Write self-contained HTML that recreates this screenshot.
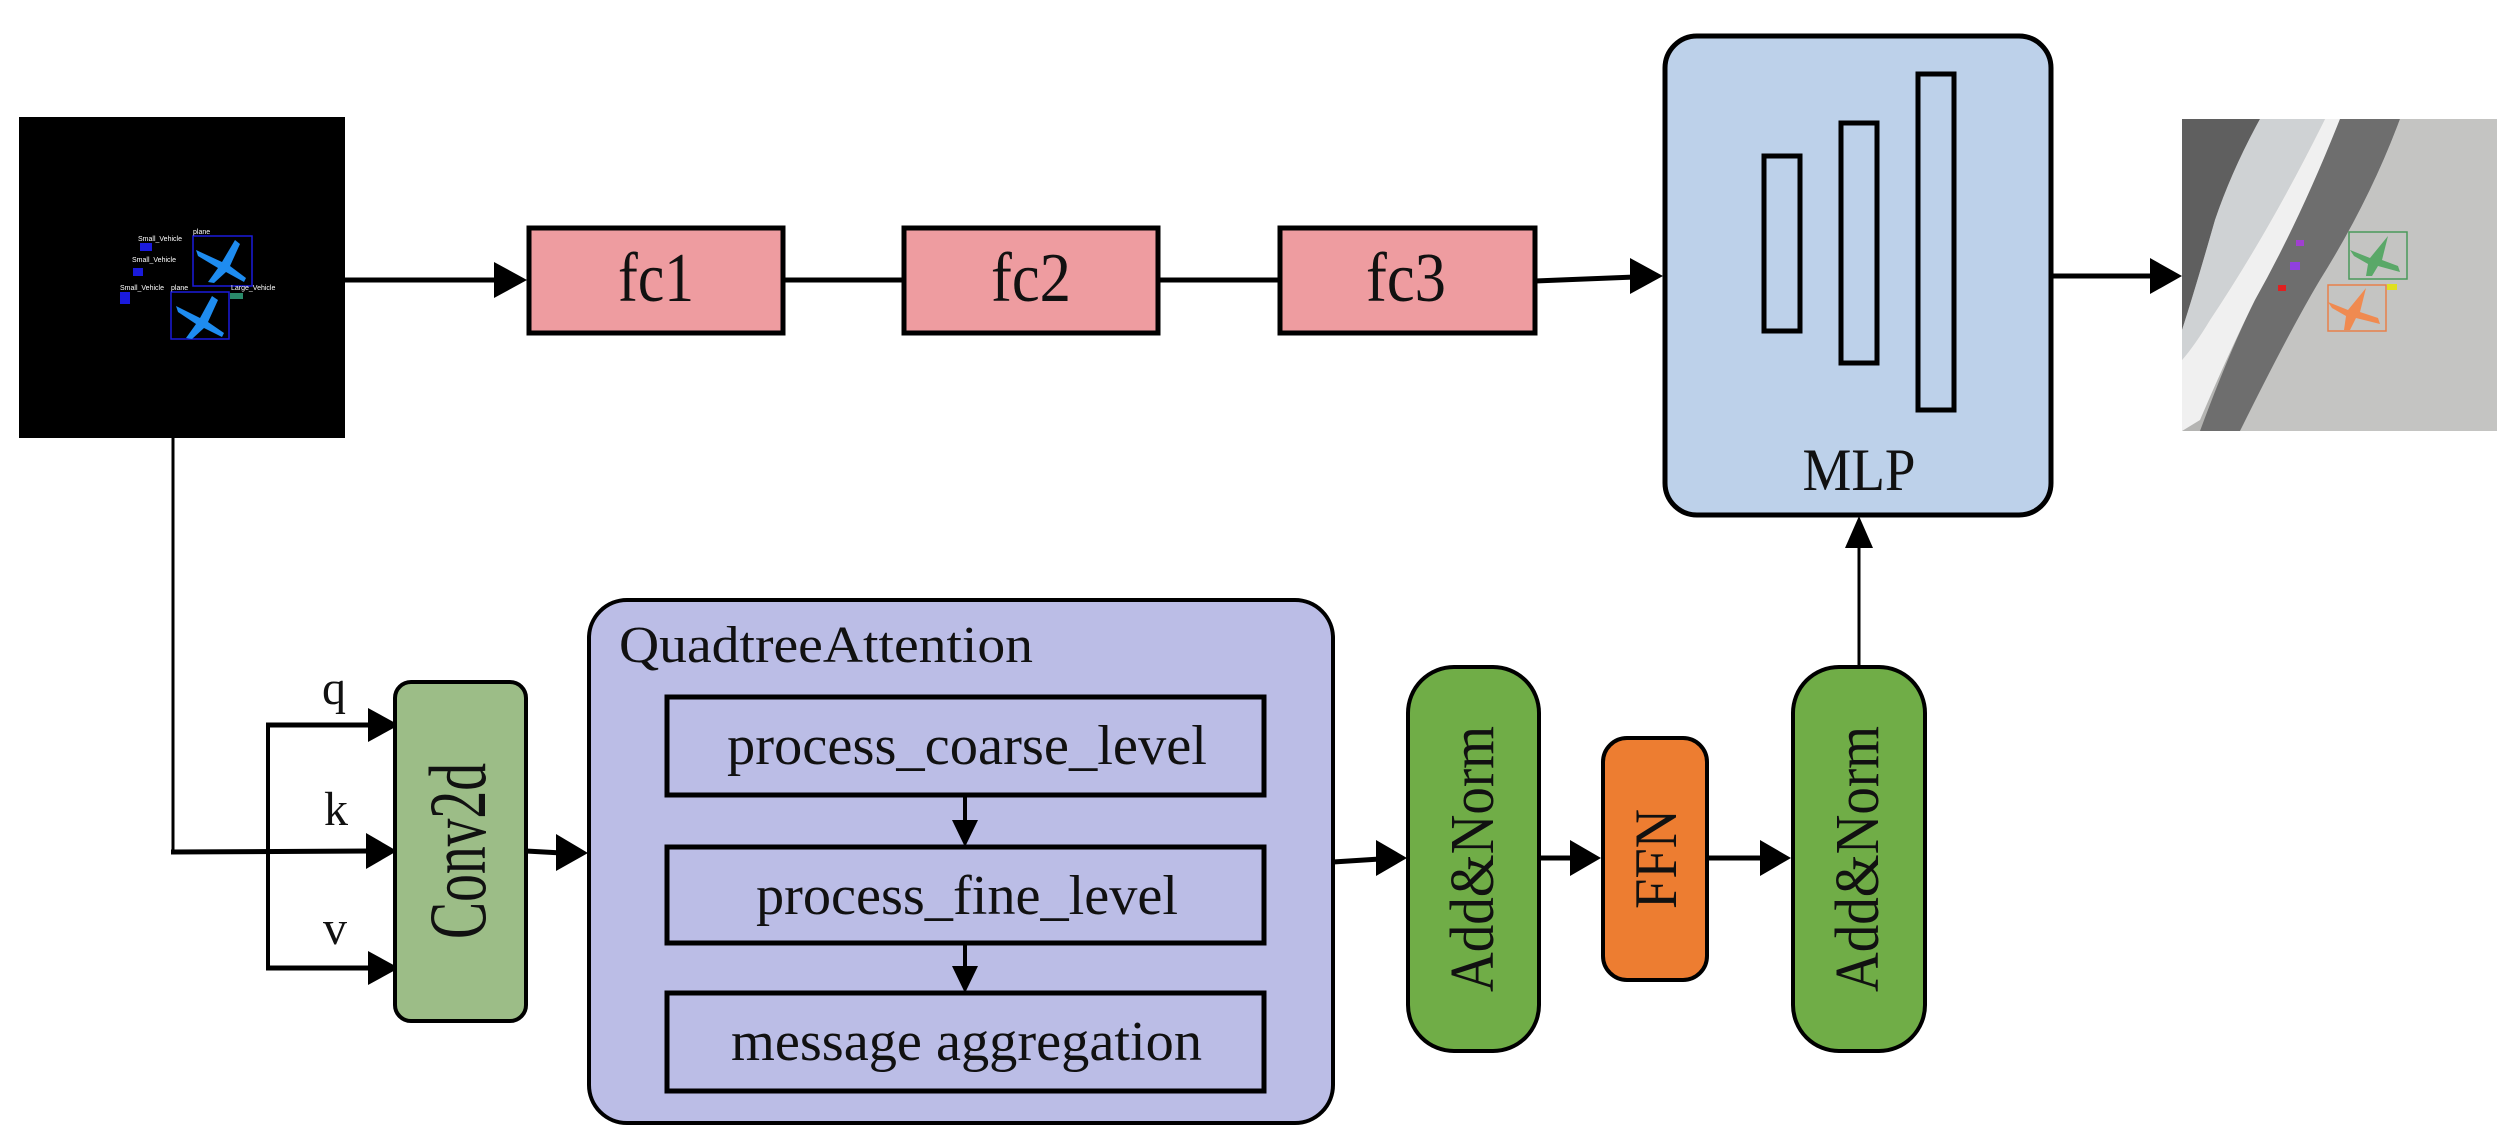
<!DOCTYPE html>
<html><head><meta charset="utf-8"><style>
html,body{margin:0;padding:0;background:#fff;}
svg{display:block;}
text{font-family:"Liberation Serif",serif;fill:#111;}
</style></head><body>
<svg width="2517" height="1147" viewBox="0 0 2517 1147" xmlns="http://www.w3.org/2000/svg">

<!-- input image -->
<rect x="19" y="117" width="326" height="321" fill="#000"/>
<rect x="193" y="236" width="59" height="50" fill="none" stroke="#1a1adc" stroke-width="1.5"/>
<rect x="171" y="292" width="58" height="47" fill="none" stroke="#1a1adc" stroke-width="1.5"/>
<path d="M235 240 L222 262 L196 250 L198 256 L218 268 L208 282 L214 283 L226 272 L244 282 L246 278 L230 266 L240 244 Z" fill="#1e8cf0"/>
<path d="M212 296 L200 318 L176 306 L178 312 L196 324 L186 338 L192 339 L204 328 L222 337 L224 333 L208 322 L218 300 Z" fill="#1e8cf0"/>
<rect x="140" y="243" width="12" height="8" fill="#1a1adc"/>
<rect x="133" y="268" width="10" height="8" fill="#1a1adc"/>
<rect x="120" y="292" width="10" height="12" fill="#1a1adc"/>
<rect x="230" y="293" width="13" height="6" fill="#2a8a6a"/>
<text x="138" y="241" font-size="7" style="fill:#fff;font-family:'Liberation Sans'">Small_Vehicle</text>
<text x="132" y="262" font-size="7" style="fill:#fff;font-family:'Liberation Sans'">Small_Vehicle</text>
<text x="120" y="290" font-size="7" style="fill:#fff;font-family:'Liberation Sans'">Small_Vehicle</text>
<text x="193" y="234" font-size="7" style="fill:#fff;font-family:'Liberation Sans'">plane</text>
<text x="171" y="290" font-size="7" style="fill:#fff;font-family:'Liberation Sans'">plane</text>
<text x="231" y="290" font-size="7" style="fill:#fff;font-family:'Liberation Sans'">Large_Vehicle</text>

<!-- top line -->
<line x1="345" y1="280" x2="500" y2="280" stroke="#000" stroke-width="5"/>
<polygon points="494,262 527,280 494,298" fill="#000"/>
<rect x="529" y="228" width="254" height="105" fill="#EE9CA0" stroke="#000" stroke-width="5"/>
<text x="656" y="301" font-size="70" text-anchor="middle" textLength="76" lengthAdjust="spacingAndGlyphs">fc1</text>
<line x1="783" y1="280" x2="902" y2="280" stroke="#000" stroke-width="5"/>
<rect x="904" y="228" width="254" height="105" fill="#EE9CA0" stroke="#000" stroke-width="5"/>
<text x="1031" y="301" font-size="70" text-anchor="middle" textLength="80" lengthAdjust="spacingAndGlyphs">fc2</text>
<line x1="1158" y1="280" x2="1278" y2="280" stroke="#000" stroke-width="5"/>
<rect x="1280" y="228" width="255" height="105" fill="#EE9CA0" stroke="#000" stroke-width="5"/>
<text x="1406" y="301" font-size="70" text-anchor="middle" textLength="80" lengthAdjust="spacingAndGlyphs">fc3</text>
<line x1="1535" y1="281" x2="1635" y2="277" stroke="#000" stroke-width="5"/>
<polygon points="1630,258 1663,276 1630,294" fill="#000"/>

<!-- MLP -->
<rect x="1665" y="36" width="386" height="479" rx="32" fill="#BDD1EA" stroke="#000" stroke-width="5"/>
<rect x="1764" y="156" width="36" height="175" fill="none" stroke="#000" stroke-width="5"/>
<rect x="1841" y="123" width="36" height="240" fill="none" stroke="#000" stroke-width="5"/>
<rect x="1918" y="74" width="36" height="336" fill="none" stroke="#000" stroke-width="5"/>
<text x="1859" y="490" font-size="60" text-anchor="middle" textLength="113" lengthAdjust="spacingAndGlyphs">MLP</text>

<line x1="2051" y1="276" x2="2160" y2="276" stroke="#000" stroke-width="5"/>
<polygon points="2150,258 2182,276 2150,294" fill="#000"/>

<!-- output image -->
<rect x="2182" y="119" width="315" height="312" fill="#b4b4b2"/>
<path d="M2182 119 L2260 119 Q2232 170 2215 220 Q2195 290 2182 330 Z" fill="#5f5f5f"/>
<path d="M2260 119 L2325 119 Q2270 230 2210 320 Q2195 345 2182 360 L2182 330 Q2195 290 2215 220 Q2232 170 2260 119 Z" fill="#cfd2d4"/>
<path d="M2325 119 L2340 119 Q2300 220 2255 300 Q2230 350 2200 420 L2182 431 L2182 360 Q2195 345 2210 320 Q2270 230 2325 119 Z" fill="#f0f0f0"/>
<path d="M2340 119 L2400 119 Q2370 200 2320 280 Q2290 330 2260 400 L2240 431 L2200 431 Q2230 350 2255 300 Q2300 220 2340 119 Z" fill="#6e6e6e"/>
<path d="M2400 119 L2497 119 L2497 431 L2240 431 Q2290 330 2320 280 Q2370 200 2400 119 Z" fill="#c4c4c2"/>
<rect x="2349" y="232" width="58" height="47" fill="none" stroke="#4a9a5a" stroke-width="1.5"/>
<path d="M2388 236 L2370 258 L2350 250 L2354 256 L2368 264 L2366 276 L2372 276 L2378 266 L2400 272 L2398 266 L2382 260 Z" fill="#5aa868"/>
<rect x="2328" y="285" width="58" height="46" fill="none" stroke="#e8804a" stroke-width="1.5"/>
<path d="M2366 288 L2348 310 L2328 302 L2332 308 L2346 316 L2344 330 L2350 330 L2356 318 L2380 324 L2378 318 L2360 312 Z" fill="#f08a50"/>
<rect x="2296" y="240" width="8" height="6" fill="#a040d0"/>
<rect x="2290" y="262" width="10" height="8" fill="#9040e0"/>
<rect x="2278" y="285" width="8" height="6" fill="#e02020"/>
<rect x="2387" y="284" width="10" height="6" fill="#e0e020"/>

<!-- left vertical from input -->
<line x1="173" y1="438" x2="173" y2="853" stroke="#000" stroke-width="3"/>
<line x1="171" y1="852" x2="370" y2="851" stroke="#000" stroke-width="5"/>
<polygon points="366,833 397,851 366,869" fill="#000"/>
<line x1="268" y1="725" x2="268" y2="968" stroke="#000" stroke-width="4"/>
<line x1="266" y1="725" x2="372" y2="725" stroke="#000" stroke-width="5"/>
<polygon points="368,708 399,725 368,742" fill="#000"/>
<line x1="266" y1="968" x2="372" y2="968" stroke="#000" stroke-width="5"/>
<polygon points="368,951 399,968 368,985" fill="#000"/>
<text x="334" y="704" font-size="48" text-anchor="middle">q</text>
<text x="336" y="825" font-size="48" text-anchor="middle">k</text>
<text x="335" y="944" font-size="48" text-anchor="middle">v</text>

<!-- Conv2d -->
<rect x="395" y="682" width="131" height="339" rx="16" fill="#9CBD87" stroke="#000" stroke-width="4"/>
<text transform="translate(485,851) rotate(-90)" font-size="82" text-anchor="middle" textLength="176" lengthAdjust="spacingAndGlyphs">Conv2d</text>
<line x1="526" y1="851" x2="562" y2="853" stroke="#000" stroke-width="5"/>
<polygon points="556,834 588,853 556,871" fill="#000"/>

<!-- QuadtreeAttention -->
<rect x="589" y="600" width="744" height="523" rx="38" fill="#BBBDE6" stroke="#000" stroke-width="4"/>
<text x="619" y="662" font-size="52" textLength="414" lengthAdjust="spacingAndGlyphs">QuadtreeAttention</text>
<rect x="667" y="697" width="597" height="98" fill="#BBBDE6" stroke="#000" stroke-width="5"/>
<text x="727" y="764" font-size="56" textLength="480" lengthAdjust="spacingAndGlyphs">process_coarse_level</text>
<line x1="965" y1="795" x2="965" y2="826" stroke="#000" stroke-width="4"/>
<polygon points="952,820 965,847 978,820" fill="#000"/>
<rect x="667" y="847" width="597" height="96" fill="#BBBDE6" stroke="#000" stroke-width="5"/>
<text x="756" y="914" font-size="56" textLength="422" lengthAdjust="spacingAndGlyphs">process_fine_level</text>
<line x1="965" y1="943" x2="965" y2="972" stroke="#000" stroke-width="4"/>
<polygon points="952,966 965,993 978,966" fill="#000"/>
<rect x="667" y="993" width="597" height="98" fill="#BBBDE6" stroke="#000" stroke-width="5"/>
<text x="731" y="1060" font-size="56" textLength="471" lengthAdjust="spacingAndGlyphs">message aggregation</text>

<!-- Add&Norm 1 -->
<line x1="1333" y1="862" x2="1380" y2="859" stroke="#000" stroke-width="5"/>
<polygon points="1376,840 1407,858 1376,876" fill="#000"/>
<rect x="1408" y="667" width="131" height="384" rx="46" fill="#70AD47" stroke="#000" stroke-width="4"/>
<text transform="translate(1493,859) rotate(-90)" font-size="62" text-anchor="middle" textLength="266" lengthAdjust="spacingAndGlyphs">Add&amp;Norm</text>
<line x1="1539" y1="858" x2="1580" y2="858" stroke="#000" stroke-width="5"/>
<polygon points="1570,840 1601,858 1570,876" fill="#000"/>

<!-- FFN -->
<rect x="1603" y="738" width="104" height="242" rx="24" fill="#ED7D31" stroke="#000" stroke-width="4"/>
<text transform="translate(1676,859) rotate(-90)" font-size="60" text-anchor="middle" textLength="100" lengthAdjust="spacingAndGlyphs">FFN</text>
<line x1="1707" y1="858" x2="1768" y2="858" stroke="#000" stroke-width="5"/>
<polygon points="1760,840 1791,858 1760,876" fill="#000"/>

<!-- Add&Norm 2 -->
<rect x="1793" y="667" width="132" height="384" rx="46" fill="#70AD47" stroke="#000" stroke-width="4"/>
<text transform="translate(1878,859) rotate(-90)" font-size="62" text-anchor="middle" textLength="266" lengthAdjust="spacingAndGlyphs">Add&amp;Norm</text>
<line x1="1859" y1="667" x2="1859" y2="540" stroke="#000" stroke-width="3"/>
<polygon points="1845,548 1859,516 1873,548" fill="#000"/>
</svg>
</body></html>
